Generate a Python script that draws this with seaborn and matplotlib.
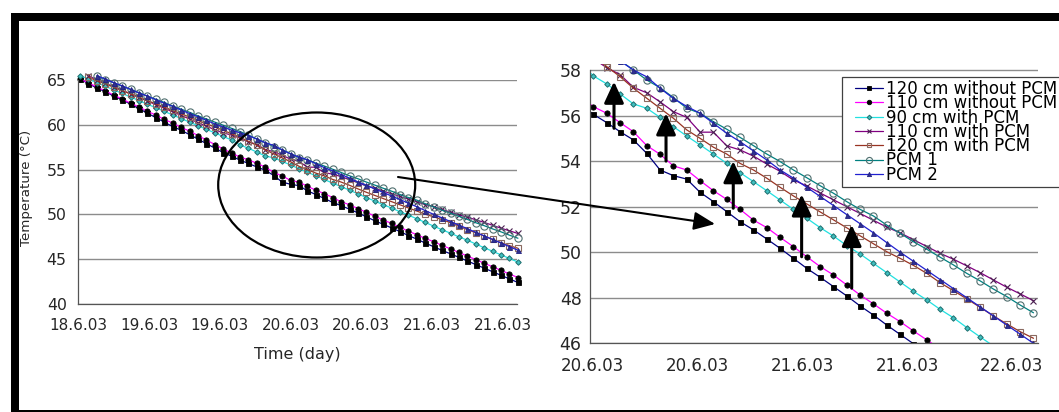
import numpy as np
import pandas as pd
import matplotlib
matplotlib.use("Agg")
import matplotlib.pyplot as plt
import seaborn as sns
from matplotlib.lines import Line2D
from matplotlib.legend_handler import HandlerLine2D
from matplotlib.patches import Ellipse, FancyArrowPatch, Rectangle

sns.set_theme(style="white")
plt.rcParams["font.family"] = ["DejaVu Sans"]

nan = np.nan

# Readings are taken every 1.428 h; hour 0 is the first (18.6.03) tick.
SAMPLE_STEP_H = 1.428
t_hours = 0.3 + SAMPLE_STEP_H * np.arange(53)

series_names = [
    "120 cm without PCM",
    "110 cm without PCM",
    "90 cm with PCM",
    "110 cm with PCM",
    "120 cm with PCM",
    "PCM 1",
    "PCM 2",
]

temp_120_no_pcm = [
    65.1, 64.6, 64.1, 63.7, 63.2, 62.8, 62.3, 61.8, 61.3, 60.8, 60.3, 59.8, 59.4,
    58.9, 58.4, 57.9, 57.4, 56.9, 56.5,
    56.05, 55.69, 55.29, 54.93, 54.34, 53.61, 53.36, 53.21, 52.63, 52.22, 51.78,
    51.34, 50.98, 50.58, 50.17, 49.73, 49.29, 48.9, 48.49, 48.08, 47.64, 47.24,
    46.8, 46.39,
    45.98, 45.6, 45.2, 44.8, 44.4, 44.0, 43.6, 43.2, 42.8, 42.4,
]
temp_110_no_pcm = [
    65.1, 64.7, 64.2, 63.8, 63.3, 62.9, 62.4, 62.0, 61.5, 61.1, 60.6, 60.2, 59.7,
    59.3, 58.8, 58.3, 57.8, 57.3, 56.85,
    56.39, 56.1, 55.69, 55.29, 54.68, 54.3, 53.79, 53.61, 53.14, 52.7, 52.32,
    51.88, 51.41, 51.08, 50.65, 50.24, 49.8, 49.37, 49.0, 48.56, 48.12, 47.73,
    47.32, 46.95, 46.54, 46.15,
    45.75, 45.35, 44.95, 44.55, 44.15, 43.75, 43.35, 42.95,
]
temp_90_pcm = [
    65.5, 65.1, 64.7, 64.3, 63.9, 63.5, 63.1, 62.7, 62.3, 61.9, 61.5, 61.1, 60.7,
    60.3, 59.9, 59.5, 59.1, 58.7, 58.3,
    57.74, 57.39, 56.95, 56.51, 56.32, 55.92, 55.51, 55.10, 54.71, 54.31, 53.90,
    53.49, 53.10, 52.70, 52.29, 51.88, 51.49, 51.08, 50.71, 50.29, 49.92, 49.51,
    49.1, 48.69, 48.28, 47.9, 47.49, 47.12, 46.69, 46.28,
    45.88, 45.48, 45.08, 44.68,
]
temp_110_pcm = [
    nan,
    65.45, 65.05, 64.65, 64.25, 63.85, 63.45, 63.05, 62.65, 62.25, 61.85, 61.45,
    61.05, 60.65, 60.25, 59.85, 59.45, 59.1, 58.85,
    58.5, 58.1, 57.8, 57.24, 57.0, 56.6, 56.17, 55.92, 55.27, 55.27, 54.67, 54.49,
    54.22, 53.87, 53.55, 53.17, 52.91, 52.6, 52.3, 52.0, 51.7, 51.4, 51.1, 50.85,
    50.55, 50.25, 49.95, 49.69, 49.4, 49.1, 48.78, 48.46, 48.17, 47.87,
]
temp_120_pcm = [
    nan,
    65.3, 64.93, 64.56, 64.19, 63.82, 63.45, 63.08, 62.71, 62.34, 61.97, 61.6,
    61.23, 60.86, 60.49, 60.12, 59.75, 59.38, 59.0,
    58.6, 58.15, 57.71, 57.2, 56.76, 56.32, 55.88, 55.37, 55.0, 54.61, 54.31, 53.9,
    53.61, 53.25, 52.85, 52.47, 52.12, 51.77, 51.42, 51.07, 50.72, 50.37, 50.02,
    49.73, 49.42, 49.07, 48.66, 48.31, 47.95, 47.58, 47.2, 46.85, 46.51, 46.22,
]
temp_pcm1 = [
    nan, nan,
    65.4, 65.05, 64.7, 64.3, 63.95, 63.6, 63.2, 62.85, 62.5, 62.1, 61.75, 61.4,
    61.0, 60.65, 60.3, 59.95, 59.6,
    59.25, 58.85, 58.42, 58.0, 57.56, 57.22, 56.79, 56.32, 56.1, 55.73, 55.4,
    55.04, 54.68, 54.31, 53.98, 53.61, 53.27, 52.92, 52.59, 52.22, 51.88, 51.59,
    51.19, 50.83, 50.46, 50.13, 49.78, 49.44, 49.07, 48.74, 48.38, 48.05, 47.68,
    47.34,
]
temp_pcm2 = [
    nan, nan,
    65.5, 65.1, 64.7, 64.35, 63.95, 63.55, 63.2, 62.8, 62.4, 62.05, 61.65, 61.25,
    60.9, 60.5, 60.1, 59.75, 59.4,
    59.1, 58.8, 58.4, 58.0, 57.7, 57.2, 56.75, 56.4, 56.1, 55.66, 55.22, 54.85,
    54.45, 54.05, 53.61, 53.25, 52.85, 52.45, 52.05, 51.65, 51.25, 50.85, 50.42,
    50.0, 49.6, 49.2, 48.8, 48.4, 48.0, 47.6, 47.2, 46.8, 46.4, 46.0,
]

series_temps = [temp_120_no_pcm, temp_110_no_pcm, temp_90_pcm, temp_110_pcm,
                temp_120_pcm, temp_pcm1, temp_pcm2]

left_tick_labels = ["18.6.03", "19.6.03", "19.6.03", "20.6.03", "20.6.03",
                    "21.6.03", "21.6.03"]
right_tick_labels = ["20.6.03", "20.6.03", "21.6.03", "21.6.03", "22.6.03"]
# date labels of the enlarged panel sit a little off their tick marks (h after R0)
right_label_offsets_h = [0.27, 11.46, 22.70, 33.94, 45.15]

# long-form table for seaborn
df = pd.concat(
    [pd.DataFrame({"time_h": t_hours, "temperature": vals, "series": name})
     for name, vals in zip(series_names, series_temps)],
    ignore_index=True,
)

styles = {
    "120 cm without PCM": dict(color="#000080", marker="s", ms=3.6, mfc="black", mec="black", mew=0.6),
    "110 cm without PCM": dict(color="#ff00ff", marker="o", ms=3.8, mfc="black", mec="black", mew=0.6),
    "90 cm with PCM": dict(color="#22e0e0", marker="D", ms=2.8, mfc="#3fbfbf", mec="#1f6f6f", mew=0.7),
    "110 cm with PCM": dict(color="#800080", marker="x", ms=4.2, mfc="none", mec="#4a2050", mew=0.8),
    "120 cm with PCM": dict(color="#993322", marker="s", ms=3.8, mfc="none", mec="#8a6a60", mew=0.8),
    "PCM 1": dict(color="#008080", marker="o", ms=5.2, mfc="none", mec="#4f6f6f", mew=0.8),
    "PCM 2": dict(color="#2020d0", marker="^", ms=3.6, mfc="#303090", mec="#202080", mew=0.6),
}

W, H = 1059, 412


def fx(px):
    return px / W


def fy(py):
    return 1 - py / H


fig = plt.figure(figsize=(W / 100, H / 100), dpi=100)
fig.patch.set_facecolor("white")

ax1 = fig.add_axes([fx(78.3), fy(304), (517 - 78.3) / W, (304 - 80) / H])
ax2 = fig.add_axes([fx(590), fy(343.3), (1038.3 - 590) / W, (343.3 - 64.3) / H])


def draw_series(ax, clip):
    for name in series_names:
        st = styles[name]
        sns.lineplot(
            data=df[df["series"] == name], x="time_h", y="temperature", ax=ax,
            color=st["color"], linewidth=0.9, marker=st["marker"],
            markersize=st["ms"], markerfacecolor=st["mfc"],
            markeredgecolor=st["mec"], markeredgewidth=st["mew"],
            estimator=None, errorbar=None, legend=False, label=name,
            clip_on=clip,
        )


draw_series(ax1, clip=False)
draw_series(ax2, clip=True)

grid_kw = dict(color="#8c8c8c", linewidth=1.0)
spine_color = "#555555"
text_color = "#262626"

# left: full record
ax1.set_xlim(0, 74.4)
ax1.set_ylim(40, 65)
ax1.set_xticks(np.arange(0, 73, 12))
ax1.set_xticklabels(left_tick_labels)
ax1.set_yticks(np.arange(40, 66, 5))
ax1.tick_params(axis="x", direction="out", length=3, width=0.8, color=spine_color,
                labelsize=11, pad=7, labelcolor=text_color)
ax1.tick_params(axis="y", direction="out", length=3, width=0.8, color=spine_color,
                labelsize=11.3, pad=5.4, labelcolor=text_color)
ax1.set_xlabel("Time (day)", fontsize=11.5, color=text_color)
ax1.set_ylabel("Temperature (°C)", fontsize=9.6, color=text_color)
ax1.xaxis.set_label_coords(0.5, -0.19)
ax1.yaxis.set_label_coords(-0.103, 0.52)

# right: enlarged section
R0 = 27.07
ax2.set_xlim(R0, R0 + 48)
ax2.set_ylim(46, 58.25)
ax2.set_xticks(R0 + np.arange(0, 49, 12))
ax2.set_xticklabels([""] * 5)
ax2.set_xticks(R0 + np.array(right_label_offsets_h), minor=True)
ax2.set_xticklabels(right_tick_labels, minor=True)
ax2.set_yticks(np.arange(46, 59, 2))
ax2.tick_params(axis="x", which="major", direction="out", length=3.5, width=0.8,
                color=spine_color)
ax2.tick_params(axis="x", which="minor", length=0, labelsize=12, pad=9.6,
                labelcolor=text_color)
ax2.tick_params(axis="y", direction="out", length=3, width=0.8, color=spine_color,
                labelsize=12.5, pad=3, labelcolor=text_color)
ax2.spines["left"].set_bounds(46, 58)
ax2.set_xlabel("")
ax2.set_ylabel("")

for ax in (ax1, ax2):
    ax.set_facecolor("none")
    ax.yaxis.grid(True, **grid_kw)
    ax.xaxis.grid(False)
    ax.set_axisbelow(True)
    for side in ("top", "right"):
        ax.spines[side].set_visible(False)
    for side in ("left", "bottom"):
        ax.spines[side].set_color(spine_color)
        ax.spines[side].set_linewidth(0.9)

# vertical arrows marking the gain of the PCM cases
arrow_x = [29.64, 35.21, 42.41, 49.73, 55.09]
arrow_base = [55.44, 54.0, 51.93, 49.8, 48.42]
arrow_tip = [57.49, 56.1, 54.0, 52.54, 51.2]
for xa, yb, yt in zip(arrow_x, arrow_base, arrow_tip):
    ax2.annotate("", xy=(xa, yt), xytext=(xa, yb),
                 arrowprops=dict(arrowstyle="-|>,head_length=0.65,head_width=0.3",
                                 mutation_scale=20, lw=2.2, color="black",
                                 shrinkA=0, shrinkB=0))

# legend box: 110 px tall, upper-left corner at (841.7, 76.7) px
LEG_FS = 12
LEG_TARGET_H = 110.3
handles, labels = ax2.get_legend_handles_labels()


def make_legend(spacing):
    lg = fig.legend(handles, labels, loc="upper left",
                    bbox_to_anchor=(fx(841.7), fy(76.7)), frameon=True,
                    fancybox=False, framealpha=1, edgecolor="#404040",
                    fontsize=LEG_FS, labelspacing=spacing, handlelength=2.26,
                    handletextpad=0.2, borderpad=0.2, borderaxespad=0,
                    markerscale=0.85,
                    handler_map={Line2D: HandlerLine2D(xpad=0.58)})
    lg.get_frame().set_linewidth(0.9)
    for txt in lg.get_texts():
        txt.set_color("black")
    return lg


spacing = -0.085
leg = make_legend(spacing)
renderer = fig.canvas.get_renderer()
fs_px = LEG_FS * fig.dpi / 72
for _ in range(2):
    h_now = leg.get_window_extent(renderer).height
    spacing += (LEG_TARGET_H - h_now) / (6 * fs_px)
    leg.remove()
    leg = make_legend(spacing)

# ellipse around the section shown on the right, with pointer
fig.add_artist(Ellipse((fx(316.7), fy(185)), 197 / W, 145 / H,
                       transform=fig.transFigure, fill=False, lw=1.6,
                       edgecolor="black"))
fig.add_artist(FancyArrowPatch((fx(398), fy(177)), (fx(715), fy(224)),
                               transform=fig.transFigure,
                               arrowstyle="-|>,head_length=0.65,head_width=0.28",
                               mutation_scale=20, lw=1.5, color="black",
                               shrinkA=0, shrinkB=0))

# frame around the figure
fig.add_artist(Rectangle((fx(11), fy(21)), 1 - fx(11), 8 / H,
                         transform=fig.transFigure, color="black", lw=0))
fig.add_artist(Rectangle((fx(11), fy(412)), 8 / W, (412 - 13) / H,
                         transform=fig.transFigure, color="black", lw=0))
fig.add_artist(Rectangle((fx(11), fy(411.5)), 1 - fx(11), 2 / H,
                         transform=fig.transFigure, color="black", lw=0))

fig.savefig("out.png", dpi=100)
